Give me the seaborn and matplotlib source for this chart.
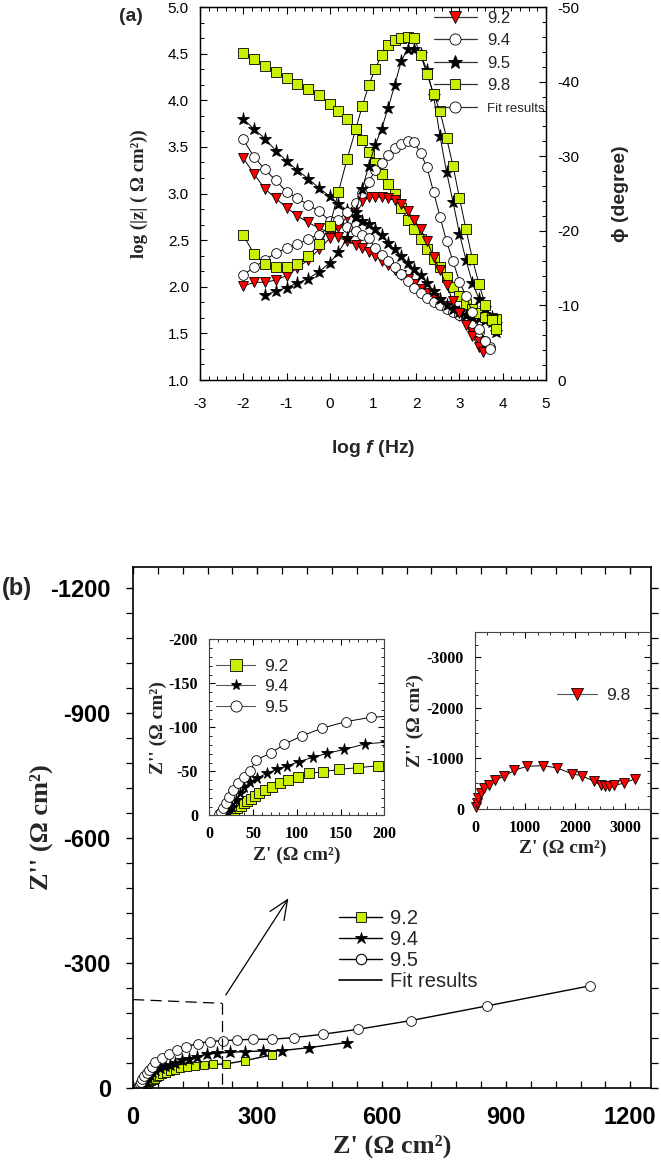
import matplotlib
matplotlib.use('Agg')
import matplotlib.pyplot as plt
import seaborn as sns
from matplotlib.lines import Line2D
from matplotlib.ticker import MultipleLocator, FormatStrFormatter, FixedLocator

# ---------------- data: panel (a) Bode ----------------
logf_92 = [-2, -1.75, -1.5, -1.25, -1, -0.75, -0.5, -0.25, 0, 0.2, 0.4, 0.6, 0.75, 0.9, 1.05, 1.2,
           1.35, 1.5, 1.65, 1.8, 1.95, 2.1, 2.25, 2.4, 2.55, 2.7, 2.85, 3.0, 3.15, 3.3, 3.45, 3.55]
logz_92 = [3.38, 3.21, 3.05, 2.95, 2.85, 2.76, 2.69, 2.63, 2.58, 2.53, 2.49, 2.45, 2.42, 2.37, 2.33, 2.28,
           2.23, 2.18, 2.13, 2.08, 2.03, 1.98, 1.93, 1.88, 1.84, 1.79, 1.74, 1.69, 1.62, 1.52, 1.42, 1.33]
phase_92 = [-12.6, -13.1, -13.1, -13.4, -14.0, -15.0, -16.1, -17.5, -19.0, -20.5, -21.9, -23.1, -24.0, -24.5,
            -24.6, -24.5, -24.4, -24.1, -23.6, -22.6, -21.5, -20.2, -18.6, -16.5, -14.7, -12.7, -10.6, -9.0,
            -7.4, -5.9, -4.4, -3.7]

logf_94 = [-2, -1.75, -1.5, -1.25, -1, -0.75, -0.5, -0.25, 0, 0.2, 0.4, 0.6, 0.75, 0.9, 1.05, 1.2,
           1.35, 1.5, 1.65, 1.8, 1.95, 2.1, 2.25, 2.4, 2.55, 2.7, 2.85, 3.0, 3.15, 3.3, 3.45, 3.6, 3.7]
logz_94 = [3.58, 3.39, 3.26, 3.14, 3.02, 2.95, 2.88, 2.81, 2.71, 2.68, 2.64, 2.60, 2.56, 2.52, 2.42, 2.34,
           2.28, 2.21, 2.14, 2.06, 1.99, 1.93, 1.88, 1.84, 1.80, 1.76, 1.73, 1.70, 1.66, 1.61, 1.52, 1.42, 1.35]
phase_94 = [-14.1, -15.1, -16.1, -17.0, -17.7, -18.2, -18.9, -19.5, -20.5, -21.5, -22.5, -23.7, -25.1, -26.6,
            -28.1, -29.1, -30.1, -31.1, -31.7, -32.1, -31.9, -30.4, -28.5, -25.2, -21.9, -18.6, -15.9, -13.2,
            -11.2, -9.1, -6.9, -5.2, -4.1]

logf_95 = [-2, -1.75, -1.5, -1.25, -1, -0.75, -0.5, -0.25, 0, 0.2, 0.4, 0.6, 0.75, 0.9, 1.05, 1.2,
           1.35, 1.5, 1.65, 1.8, 1.95, 2.1, 2.25, 2.4, 2.55, 2.7, 2.85, 3.0, 3.15, 3.3, 3.45, 3.6, 3.75, 3.85]
logz_95 = [3.80, 3.69, 3.59, 3.46, 3.35, 3.25, 3.16, 3.06, 2.97, 2.89, 2.82, 2.75, 2.71, 2.67, 2.62, 2.56,
           2.47, 2.40, 2.33, 2.26, 2.19, 2.13, 2.04, 1.95, 1.87, 1.80, 1.76, 1.73, 1.70, 1.68, 1.66, 1.64, 1.62, 1.60]
logf_95_ph = [-1.5, -1.25, -1, -0.75, -0.5, -0.25, 0, 0.2, 0.4, 0.6, 0.75, 0.9, 1.05, 1.2, 1.35, 1.5,
              1.65, 1.8, 1.95, 2.1, 2.25, 2.4, 2.55, 2.7, 2.85, 3.0, 3.15, 3.3, 3.45, 3.6, 3.75, 3.85]
phase_95 = [-11.4, -11.9, -12.4, -13.0, -13.6, -14.5, -15.7, -17.1, -19.0, -22.5, -25.6, -28.7, -31.5, -33.7,
            -36.5, -39.5, -42.7, -44.4, -44.4, -43.7, -41.5, -38.1, -32.7, -27.9, -23.9, -19.6, -16.1, -13.0,
            -10.9, -9.6, -8.5, -6.5]

logf_98 = [-2, -1.75, -1.5, -1.25, -1, -0.75, -0.5, -0.25, 0, 0.2, 0.4, 0.6, 0.75, 0.9, 1.05, 1.2,
           1.35, 1.5, 1.65, 1.8, 1.95, 2.1, 2.25, 2.4, 2.55, 2.7, 2.85, 3.0, 3.15, 3.3, 3.45, 3.6, 3.75, 3.85]
logz_98 = [4.51, 4.44, 4.37, 4.30, 4.24, 4.18, 4.12, 4.06, 3.96, 3.89, 3.80, 3.69, 3.57, 3.45, 3.33, 3.21,
           3.10, 3.00, 2.85, 2.72, 2.62, 2.51, 2.40, 2.30, 2.21, 2.11, 2.00, 1.90, 1.82, 1.76, 1.72, 1.68, 1.66, 1.65]
phase_98 = [-19.4, -16.9, -15.5, -15.1, -15.2, -15.6, -16.6, -18.2, -20.6, -25.2, -29.6, -33.6, -36.7, -39.5,
            -41.7, -43.6, -44.9, -45.6, -45.9, -46.0, -45.9, -43.6, -41.0, -38.4, -36.0, -32.5, -28.7, -24.4,
            -20.2, -16.2, -12.9, -10.0, -8.0, -6.9]

bode_labels = ['9.2', '9.4', '9.5', '9.8', 'Fit results']

# ---------------- data: panel (b) Nyquist ----------------
zr_92 = [21.7, 24.4, 28.2, 32.0, 35.8, 39.6, 43.4, 47.2, 52.2, 57.2, 63.6, 71.2, 80.8, 90.3, 101.7, 114.3,
         130.3, 148.6, 170.3, 193.2, 224.5, 270.3, 334.7]
zi_92 = [-0.4, -2.3, -5.3, -8.0, -10.6, -13.6, -16.3, -18.9, -22.0, -25.8, -28.8, -32.6, -36.4, -40.2, -43.9,
         -47.7, -49.6, -52.3, -54.2, -56.4, -57.6, -65.6, -79.2]
zr_94 = [19.1, 21.7, 25.5, 30.5, 35.1, 40.0, 46.5, 54.1, 65.5, 77.0, 89.2, 102.1, 118.1, 134.9, 154.3, 177.9,
         201.9, 234.1, 270.3, 313.0, 358.8, 425.6, 515.7]
zi_94 = [-1.1, -4.2, -9.8, -17.4, -25.0, -31.8, -38.3, -42.1, -47.7, -52.3, -56.1, -61.0, -65.9, -70.5, -75.0,
         -81.1, -83.2, -85.6, -87.2, -88.8, -89.6, -96.8, -108.8]
zr_95 = [11.4, 13.3, 16.0, 19.1, 22.9, 27.4, 33.1, 39.6, 46.5, 53.3, 70.5, 85.7, 105.5, 128.4, 155.8, 184.8,
         218.0, 251.8, 290.4, 334.7, 388.6, 457.8, 543.9, 670.0, 855.0, 1103.0]
zi_95 = [-1.5, -4.2, -8.7, -14.4, -21.2, -28.8, -36.4, -44.0, -50.8, -62.9, -70.9, -80.8, -90.2, -98.9, -106.5,
         -111.4, -113.6, -115.2, -116.8, -116.8, -120.8, -128.8, -140.8, -161.6, -197.0, -245.0]
zr_98 = [13, 33, 67, 120, 187, 287, 400, 580, 787, 1033, 1353, 1647, 1933, 2133, 2387, 2513, 2600, 2687,
         2787, 2980, 3200]
zi_98 = [-40, -120, -207, -307, -407, -473, -573, -640, -760, -840, -853, -807, -693, -653, -540, -460, -440,
         -440, -460, -507, -593]
nyq_labels = ['9.2', '9.4', '9.5', 'Fit results']
inset2_label = '9.8'

# ---------------- styling ----------------
sns.set_theme(style='ticks')
plt.rcParams['font.family'] = ['Liberation Sans', 'DejaVu Sans']
plt.rcParams['axes.unicode_minus'] = False
plt.rcParams['mathtext.fontset'] = 'custom'
plt.rcParams['mathtext.it'] = 'Liberation Sans:italic:bold'
plt.rcParams['mathtext.rm'] = 'Liberation Sans:bold'
plt.rcParams['axes.edgecolor'] = 'black'
plt.rcParams['xtick.color'] = 'black'
plt.rcParams['ytick.color'] = 'black'

RED = '#ff0000'
YG = '#ccee00'
SERIF = ['Liberation Serif', 'DejaVu Serif']

fig = plt.figure(figsize=(6.61, 11.74), dpi=100)


def draw(ax, x, y, marker, mfc, ms, mew=0.6, lw=0.7, lc='black', clip=True):
    sns.lineplot(x=x, y=y, ax=ax, sort=False, estimator=None, color=lc, lw=lw,
                 marker=marker, markerfacecolor=mfc, markeredgecolor='black',
                 markersize=ms, markeredgewidth=mew, legend=False, clip_on=clip)


# ================= panel (a) =================
ax = fig.add_axes([0.3026, 0.6763, 0.5234, 0.3177])
ax2 = ax.twinx()
st = {'9.2': ('v', RED, 7.5), '9.4': ('o', 'white', 7), '9.5': ('*', 'black', 9.5), '9.8': ('s', YG, 6.8)}
draw(ax, logf_92, logz_92, *st['9.2'])
draw(ax2, logf_92, phase_92, *st['9.2'])
draw(ax, logf_94, logz_94, *st['9.4'])
draw(ax2, logf_94, phase_94, *st['9.4'])
draw(ax, logf_95, logz_95, *st['9.5'])
draw(ax2, logf_95_ph, phase_95, *st['9.5'])
draw(ax, logf_98, logz_98, *st['9.8'])
draw(ax2, logf_98, phase_98, *st['9.8'])

ax.set_xlim(-3, 5)
ax.set_ylim(1, 5)
ax2.set_ylim(0, -50)
ax.xaxis.set_major_locator(MultipleLocator(1))
ax.xaxis.set_minor_locator(MultipleLocator(0.2))
ax.yaxis.set_major_locator(MultipleLocator(0.5))
ax.yaxis.set_minor_locator(MultipleLocator(0.5 / 3))
ax.yaxis.set_major_formatter(FormatStrFormatter('%.1f'))
ax2.yaxis.set_major_locator(MultipleLocator(10))
ax2.yaxis.set_minor_locator(MultipleLocator(2))
ax2.yaxis.set_major_formatter(FormatStrFormatter('%d'))
ax.tick_params(axis='x', which='both', direction='in', top=True, bottom=True, labelsize=11, pad=12)
ax.tick_params(axis='y', which='both', direction='in', left=True, right=False, labelsize=11, pad=8)
ax.tick_params(which='major', length=5, width=0.8)
ax.tick_params(which='minor', length=3, width=0.7)
ax2.tick_params(axis='y', which='both', direction='in', right=True, labelsize=11, pad=8)
ax2.tick_params(which='major', length=5, width=0.8)
ax2.tick_params(which='minor', length=3, width=0.7)
for a in (ax, ax2):
    for s in a.spines.values():
        s.set_linewidth(0.9)

ax.set_xlabel(r'log $\mathit{f}$ (Hz)', fontsize=14, fontweight='bold', labelpad=20)
ax.set_ylabel('log (|z| ( Ω cm²))', family=SERIF, fontsize=13.5, fontweight='bold', labelpad=14)
ax2.set_ylabel('ϕ (degree)', fontsize=14, fontweight='bold', labelpad=24)

hd = []
for k in ['9.2', '9.4', '9.5', '9.8']:
    m, c, s = st[k]
    hd.append(Line2D([], [], color='#333333', lw=0.9, marker=m, markerfacecolor=c,
                     markeredgecolor='black', markersize=s + 1, markeredgewidth=0.6))
hd.append(Line2D([], [], color='#333333', lw=0.9, marker='o', markerfacecolor='white',
                 markeredgecolor='black', markersize=8, markeredgewidth=0.6))
leg = ax2.legend(hd, bode_labels, loc='upper left', bbox_to_anchor=(0.675, 0.99), frameon=False,
                 fontsize=12, handlelength=2.6, handletextpad=0.6, labelspacing=0.45,
                 borderpad=0, borderaxespad=0)
leg.get_texts()[4].set_fontsize(9.5)
fig.text(0.18, 0.986, '(a)', fontsize=14, fontweight='bold', ha='left', va='center')

# ================= panel (b) main =================
bx = fig.add_axes([0.2012, 0.0733, 0.7837, 0.4438])
draw(bx, zr_92, zi_92, 's', YG, 6, lw=1.0)
draw(bx, zr_94, zi_94, '*', 'black', 9.5, lw=1.0)
draw(bx, zr_95, zi_95, 'o', 'white', 7, lw=1.0)
bx.set_xlim(0, 1250)
bx.set_ylim(0, -1250)
bx.xaxis.set_major_locator(FixedLocator([0, 300, 600, 900, 1200]))
bx.xaxis.set_minor_locator(MultipleLocator(60))
bx.yaxis.set_major_locator(FixedLocator([0, -300, -600, -900, -1200]))
bx.yaxis.set_minor_locator(MultipleLocator(60))
bx.yaxis.set_major_formatter(FormatStrFormatter('%d'))
bx.xaxis.set_major_formatter(FormatStrFormatter('%d'))
bx.tick_params(axis='x', which='both', direction='in', top=True, labelsize=17, pad=13)
bx.tick_params(axis='y', which='both', direction='out', left=True, labelsize=17, pad=11)
bx.tick_params(axis='y', which='both', right=True)
bx.tick_params(which='major', length=5, width=1.0)
bx.tick_params(which='minor', length=5, width=0.9)
plt.setp(bx.get_xticklabels(), fontweight='bold')
plt.setp(bx.get_yticklabels(), fontweight='bold')
for s in bx.spines.values():
    s.set_linewidth(1.2)
bx.set_xlabel("Z' (Ω cm²)", family=SERIF, fontsize=19, fontweight='bold', labelpad=4)
bx.set_ylabel("Z'' (Ω cm²)", family=SERIF, fontsize=19, fontweight='bold', labelpad=-2)

# zoom box and arrow
bx.plot([0, 215], [-212, -203], color='black', lw=0.9, dashes=(9, 5))
bx.plot([215, 215], [-203, 0], color='black', lw=0.9, dashes=(9, 5))
bx.annotate('', xy=(375, -455), xytext=(224, -223),
            arrowprops=dict(arrowstyle='->,head_length=0.7,head_width=0.3', lw=0.9,
                            color='black', mutation_scale=20, shrinkA=0, shrinkB=0))

hb = [Line2D([], [], color='black', lw=1.0, marker='s', markerfacecolor=YG, markeredgecolor='black',
             markersize=7, markeredgewidth=0.6),
      Line2D([], [], color='black', lw=1.0, marker='*', markerfacecolor='black', markeredgecolor='black',
             markersize=9, markeredgewidth=0.6),
      Line2D([], [], color='black', lw=1.0, marker='o', markerfacecolor='white', markeredgecolor='black',
             markersize=7.5, markeredgewidth=0.8),
      Line2D([], [], color='black', lw=1.2)]
bx.legend(hb, nyq_labels, loc='upper left', bbox_to_anchor=(0.398, 0.343), frameon=False, fontsize=14.5,
          handlelength=2.15, handletextpad=0.35, labelspacing=0.1, borderpad=0, borderaxespad=0)
fig.text(0.003, 1 - 589 / 1174, '(b)', fontsize=17, fontweight='bold', ha='left', va='center')

# ================= inset left =================
ia = fig.add_axes([0.3167, 0.3055, 0.2648, 0.1499])
draw(ia, zr_92, zi_92, 's', YG, 7, lw=0.7)
draw(ia, zr_94, zi_94, '*', 'black', 8.5, lw=0.7)
draw(ia, zr_95, zi_95, 'o', 'white', 7, lw=0.7)
ia.set_xlim(0, 200)
ia.set_ylim(0, -200)
ia.xaxis.set_major_locator(MultipleLocator(50))
ia.xaxis.set_minor_locator(MultipleLocator(10))
ia.yaxis.set_major_locator(MultipleLocator(50))
ia.yaxis.set_minor_locator(MultipleLocator(10))
ia.xaxis.set_major_formatter(FormatStrFormatter('%d'))
ia.yaxis.set_major_formatter(FormatStrFormatter('%d'))
ia.tick_params(which='both', direction='in', top=True, right=True, labelsize=11.5, pad=8)
ia.tick_params(which='major', length=4, width=0.8)
ia.tick_params(which='minor', length=2, width=0.6)
plt.setp(ia.get_xticklabels(), fontweight='bold', family=SERIF)
plt.setp(ia.get_yticklabels(), fontweight='bold', family=SERIF)
for s in ia.spines.values():
    s.set_linewidth(0.8)
    s.set_color('#444444')
ia.set_xlabel("Z' (Ω cm²)", family=SERIF, fontsize=14, fontweight='bold', labelpad=3)
ia.set_ylabel("Z'' (Ω cm²)", family=SERIF, fontsize=14, fontweight='bold', labelpad=1)
hi = [Line2D([], [], color='#555555', lw=0.8, marker='s', markerfacecolor=YG, markeredgecolor='black',
             markersize=8, markeredgewidth=0.6),
      Line2D([], [], color='#555555', lw=0.8, marker='*', markerfacecolor='black', markeredgecolor='black',
             markersize=8, markeredgewidth=0.6),
      Line2D([], [], color='#555555', lw=0.8, marker='o', markerfacecolor='white', markeredgecolor='black',
             markersize=8, markeredgewidth=0.6)]
ia.legend(hi, nyq_labels[:3], loc='upper left', bbox_to_anchor=(0.04, 0.89), frameon=False, fontsize=12.5,
          handlelength=2.25, handletextpad=0.5, labelspacing=0.3, borderpad=0, borderaxespad=0)

# ================= inset right =================
ib = fig.add_axes([0.7186, 0.3112, 0.2648, 0.1503])
draw(ib, zr_98, zi_98, 'v', RED, 7.5, lw=0.7, clip=False)
ib.set_xlim(0, 3500)
ib.set_ylim(0, -3500)
ib.xaxis.set_major_locator(MultipleLocator(1000))
ib.xaxis.set_minor_locator(MultipleLocator(250))
ib.yaxis.set_major_locator(MultipleLocator(1000))
ib.yaxis.set_minor_locator(MultipleLocator(250))
ib.xaxis.set_major_formatter(FormatStrFormatter('%d'))
ib.yaxis.set_major_formatter(FormatStrFormatter('%d'))
ib.tick_params(which='both', direction='in', top=True, right=True, labelsize=11.5, pad=8)
ib.tick_params(which='major', length=4, width=0.8)
ib.tick_params(which='minor', length=2, width=0.6)
plt.setp(ib.get_xticklabels(), fontweight='bold', family=SERIF)
plt.setp(ib.get_yticklabels(), fontweight='bold', family=SERIF)
for s in ib.spines.values():
    s.set_linewidth(0.8)
    s.set_color('#444444')
ib.set_xlabel("Z' (Ω cm²)", family=SERIF, fontsize=14, fontweight='bold', labelpad=3)
ib.set_ylabel("Z'' (Ω cm²)", family=SERIF, fontsize=14, fontweight='bold', labelpad=2)
hr = [Line2D([], [], color='#555555', lw=0.8, marker='v', markerfacecolor=RED, markeredgecolor='black',
             markersize=9, markeredgewidth=0.6)]
ib.legend(hr, [inset2_label], loc='upper left', bbox_to_anchor=(0.47, 0.685), frameon=False, fontsize=12.5,
          handlelength=2.3, handletextpad=0.5, borderpad=0, borderaxespad=0)

fig.savefig('out.png', dpi=100)
